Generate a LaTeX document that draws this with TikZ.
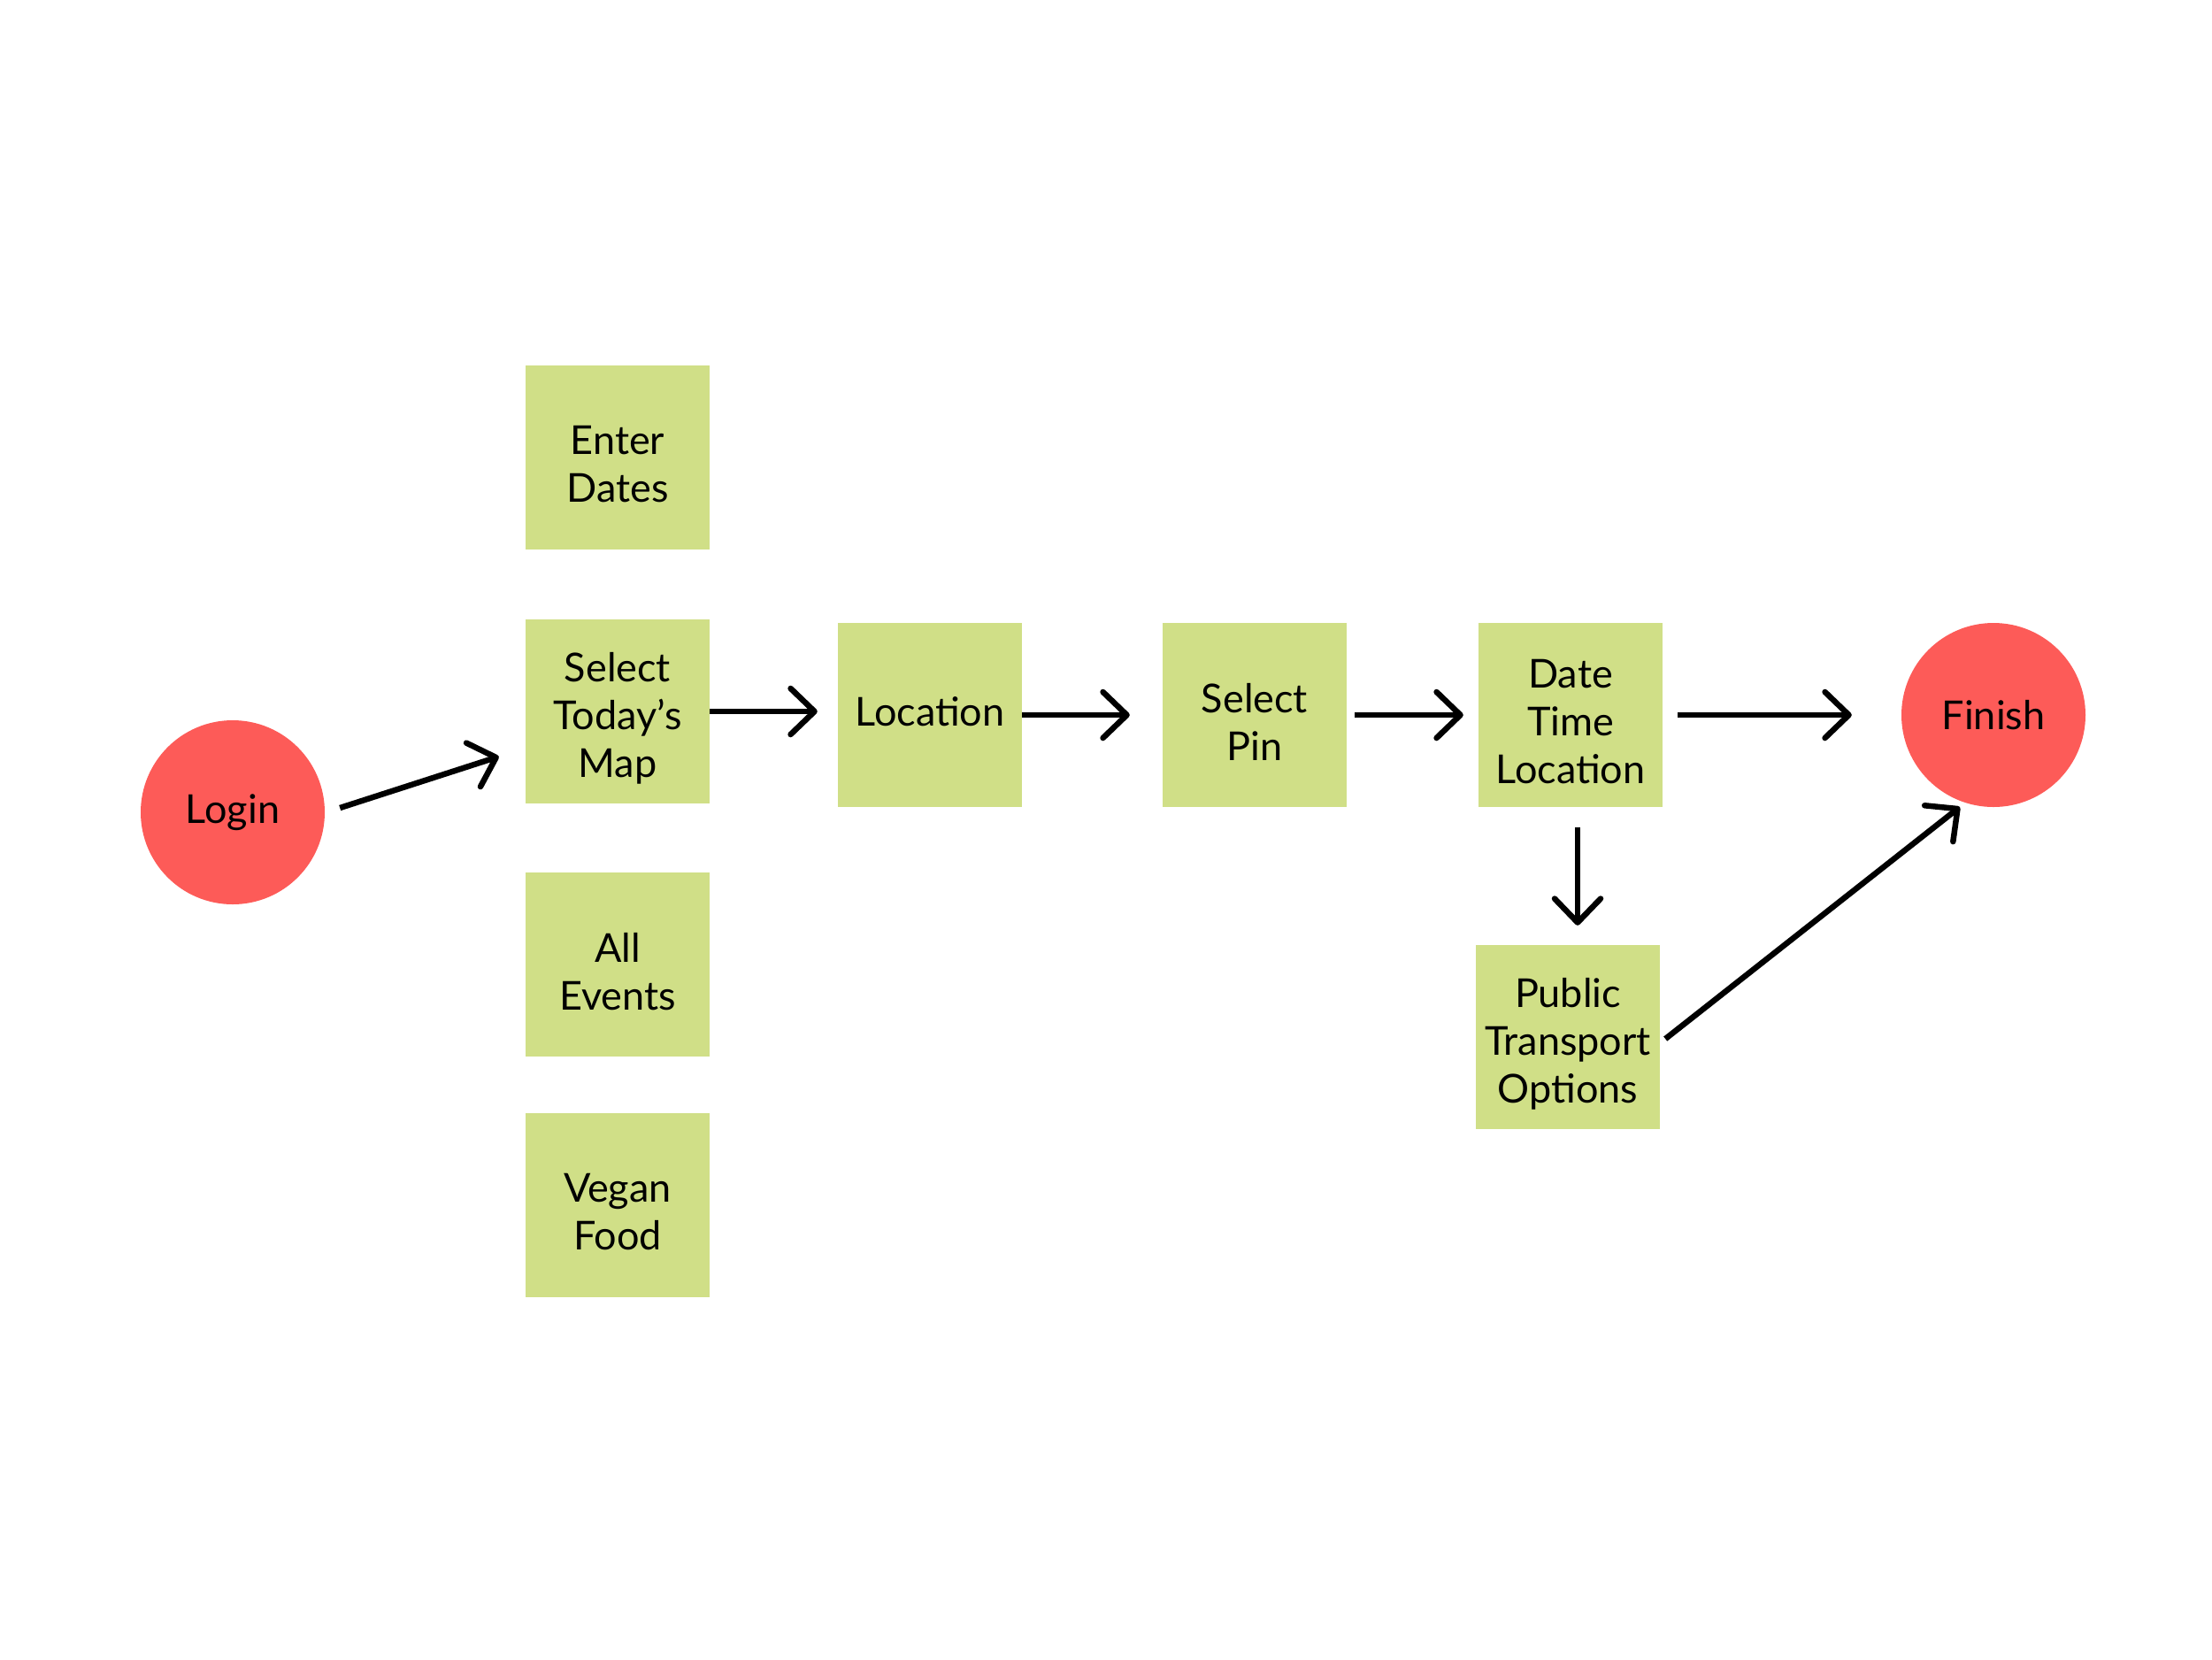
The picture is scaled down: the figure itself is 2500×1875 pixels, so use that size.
\documentclass[tikz,border=0pt]{standalone}
\usepackage{fontspec}
\setmainfont{Lato}
\usetikzlibrary{arrows.meta}
\definecolor{boxg}{HTML}{D0DF87}
\definecolor{endred}{HTML}{FD5B58}
\begin{document}
\begin{tikzpicture}[x=1pt,y=-1pt,
  stepbox/.style={fill=boxg, minimum width=208pt, minimum height=208pt, inner sep=0pt},
  tx/.style={align=center, inner sep=0pt, font=\fontsize{45}{54}\selectfont, yshift=-8pt},
  endpt/.style={circle, fill=endred, minimum size=208pt, inner sep=0pt, font=\fontsize{45}{54}\selectfont},
  arr/.style={line width=6.5pt, -{Straight Barb[length=27pt,width=52pt,line cap=round,line join=round]}}]
\fill[white] (0,0) rectangle (2500,1875);
\useasboundingbox (0,0) rectangle (2500,1875);
\node[endpt] (login) at (263,918) {Login};
\node[stepbox, label={[tx]center:{Enter\\Dates}}] (enter) at (698,517) {};
\node[stepbox, label={[tx]center:{Select\\Today’s\\Map}}] (select) at (698,804) {};
\node[stepbox, label={[tx]center:{All\\Events}}] (all) at (698,1090) {};
\node[stepbox, label={[tx]center:{Vegan\\Food}}] (vegan) at (698,1362) {};
\node[stepbox, label={[tx,yshift=12pt]center:{Location}}] (loc) at (1051,808) {};
\node[stepbox, label={[tx]center:{Select\\Pin}}] (pin) at (1418,808) {};
\node[stepbox, label={[tx]center:{Date\\Time\\Location}}] (dtl) at (1775,808) {};
\node[stepbox, label={[tx]center:{Public\\Transport\\Options}}] (pto) at (1772,1172) {};
\node[endpt] (finish) at (2253,808) {Finish};
\draw[arr] ([xshift=17pt,yshift=5pt]login.east) -- ([xshift=-30pt,yshift=-51pt]select.west);
\draw[arr] (select.east) -- ([xshift=-23pt]loc.west |- select.east);
\draw[arr] (loc.east) -- ([xshift=-37pt]pin.west);
\draw[arr] ([xshift=9pt]pin.east) -- ([xshift=-17pt]dtl.west);
\draw[arr] ([xshift=17pt]dtl.east) -- ([xshift=-56pt]finish.west);
\draw[arr] ([xshift=8pt,yshift=-23pt]dtl.south) -- ([xshift=11pt,yshift=22pt]pto.north);
\draw[arr] ([xshift=6pt,yshift=-2pt]pto.east) -- ([xshift=-38pt,yshift=-104pt]finish.center);
\end{tikzpicture}
\end{document}
